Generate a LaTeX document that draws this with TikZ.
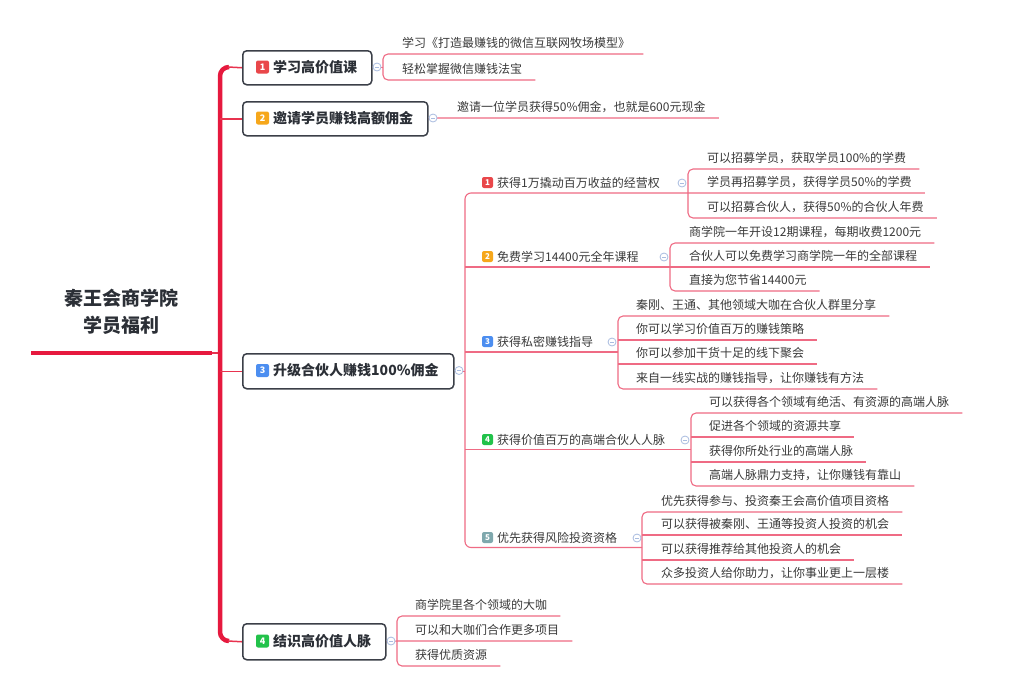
\documentclass[tikz,border=0pt]{standalone}
\usepackage{fontspec}
\newfontfamily\cjk{Noto Sans CJK SC}
\usetikzlibrary{calc,backgrounds}
\definecolor{trunkc}{HTML}{E6193E}
\definecolor{branchc}{HTML}{E8334F}
\definecolor{slinec}{HTML}{EF6B84}
\definecolor{boxc}{HTML}{3B3F48}
\definecolor{mtextc}{HTML}{2B2F36}
\definecolor{ltextc}{HTML}{3A3A3A}
\definecolor{collc}{HTML}{A9BCE0}
\definecolor{ired}{HTML}{E9474A}
\definecolor{iorange}{HTML}{F6A71B}
\definecolor{iblue}{HTML}{4C8EF0}
\definecolor{igreen}{HTML}{22C24A}
\definecolor{iteal}{HTML}{7FA8AD}
\begin{document}
\begin{tikzpicture}[x=1pt,y=-1pt,
  mainbox/.style={draw=boxc, line width=1.5pt, rounded corners=4pt, fill=white, anchor=north west, inner sep=0pt},
  mtext/.style={font=\cjk\bfseries\fontsize{14}{16}\selectfont, text=mtextc, anchor=west, inner sep=0pt},
  badge/.style={fill=#1, rounded corners=2pt, text=white, font=\cjk\bfseries\fontsize{9}{10}\selectfont, minimum width=13pt, minimum height=13pt, inner sep=0pt},
  sbadge/.style={badge=#1, minimum width=11pt, minimum height=11pt, font=\cjk\bfseries\fontsize{8}{9}\selectfont},
  slabel/.style={font=\cjk\fontsize{12}{14}\selectfont, text=ltextc, anchor=west, inner sep=0pt},
  leaf/.style={font=\cjk\fontsize{12}{14}\selectfont, text=ltextc, anchor=south west, inner xsep=0pt, inner ysep=3.4pt, text height=9pt, text depth=2.5pt},
  collapse/.style={circle, draw=collc, line width=0.8pt, fill=white, minimum size=8pt, inner sep=0pt, path picture={\draw[collc, line width=0.8pt] ([xshift=2pt]path picture bounding box.west) -- ([xshift=-2pt]path picture bounding box.east);}},
  trunk/.style={draw=trunkc, line width=4.5pt},
  branch/.style={draw=branchc, line width=1.5pt},
  sline/.style={draw=slinec, line width=1.1pt},
  bracket/.style={sline, rounded corners=5pt},
]
\begin{scope}[on background layer]
\fill[white] (0,0) rectangle (1024,678);
\end{scope}
\useasboundingbox (0,0) rectangle (1024,678);

% root
\node[font=\cjk\bfseries\fontsize{19}{27}\selectfont, text=mtextc, align=center, inner sep=0pt] (root) at (121,311.5) {秦王会商学院\\学员福利};
\coordinate (rl) at (31,353);
\coordinate (rr) at (212,353);
\coordinate (tj) at (220,353);
\coordinate (ttop) at (220,67);
\coordinate (tbot) at (220,641);

% main boxes
\node[mainbox, minimum width=129pt, minimum height=34pt] (b1) at (242,50) {};
\node[badge=ired] (i1) at (262.5,67) {1};
\node[mtext] (t1) at (273,67) {学习高价值课};

\node[mainbox, minimum width=185pt, minimum height=34pt] (b2) at (242,101) {};
\node[badge=iorange] (i2) at (262.5,118) {2};
\node[mtext] (t2) at (273,118) {邀请学员赚钱高额佣金};

\node[mainbox, minimum width=211pt, minimum height=35pt] (b3) at (242,353) {};
\node[badge=iblue] (i3) at (262.5,370.5) {3};
\node[mtext] (t3) at (273,370.5) {升级合伙人赚钱100\%佣金};

\node[mainbox, minimum width=143pt, minimum height=36pt] (b4) at (242,623) {};
\node[badge=igreen] (i4) at (262.5,641) {4};
\node[mtext] (t4) at (273,641) {结识高价值人脉};

% box 1 leaves
\node[leaf] (a1) at (383,54) {\hspace*{19pt}学习《打造最赚钱的微信互联网牧场模型》\hspace*{13pt}};
\node[leaf] (a2) at (383,80) {\hspace*{19pt}轻松掌握微信赚钱法宝\hspace*{13pt}};
\node[collapse] (c1) at (377,67) {};

% box 2 leaf
\node[leaf] (bb1) at (438,118) {\hspace*{19pt}邀请一位学员获得50\%佣金，也就是600元现金\hspace*{13pt}};
\node[collapse] (c2) at (433,118) {};

% box 3
\node[collapse] (c3) at (459,370.5) {};
\coordinate (stt) at (465,193);

% sub 1
\node[sbadge=ired] (si1) at (487.5,182.5) {1};
\node[slabel] (s1) at (497,182.5) {获得1万撬动百万收益的经营权};
\node[leaf] (k1a) at (688,169) {\hspace*{19pt}可以招募学员，获取学员100\%的学费\hspace*{13pt}};
\node[leaf] (k1b) at (688,193) {\hspace*{19pt}学员再招募学员，获得学员50\%的学费\hspace*{13pt}};
\node[leaf] (k1c) at (688,218) {\hspace*{19pt}可以招募合伙人，获得50\%的合伙人年费\hspace*{13pt}};
\node[collapse] (cs1) at (682,183) {};

% sub 2
\node[sbadge=iorange] (si2) at (487.5,256.5) {2};
\node[slabel] (s2) at (497,256.5) {免费学习14400元全年课程};
\node[leaf] (k2a) at (670,243) {\hspace*{19pt}商学院一年开设12期课程，每期收费1200元\hspace*{13pt}};
\node[leaf] (k2b) at (670,267) {\hspace*{19pt}合伙人可以免费学习商学院一年的全部课程\hspace*{13pt}};
\node[leaf] (k2c) at (670,291) {\hspace*{19pt}直接为您节省14400元\hspace*{13pt}};
\node[collapse] (cs2) at (664,257) {};

% sub 3
\node[sbadge=iblue] (si3) at (487.5,341.5) {3};
\node[slabel] (s3) at (497,341.5) {获得私密赚钱指导};
\node[leaf] (k3a) at (618,316) {\hspace*{18pt}秦刚、王通、其他领域大咖在合伙人群里分享\hspace*{13pt}};
\node[leaf] (k3b) at (618,340) {\hspace*{18pt}你可以学习价值百万的赚钱策略\hspace*{13pt}};
\node[leaf] (k3c) at (618,364) {\hspace*{18pt}你可以参加干货十足的线下聚会\hspace*{13pt}};
\node[leaf] (k3d) at (618,389) {\hspace*{18pt}来自一线实战的赚钱指导，让你赚钱有方法\hspace*{13pt}};
\node[collapse] (cs3) at (612,342) {};

% sub 4
\node[sbadge=igreen] (si4) at (487.5,439.5) {4};
\node[slabel] (s4) at (497,439.5) {获得价值百万的高端合伙人人脉};
\node[leaf] (k4a) at (691,413) {\hspace*{18pt}可以获得各个领域有绝活、有资源的高端人脉\hspace*{13pt}};
\node[leaf] (k4b) at (691,437) {\hspace*{18pt}促进各个领域的资源共享\hspace*{13pt}};
\node[leaf] (k4c) at (691,462) {\hspace*{18pt}获得你所处行业的高端人脉\hspace*{13pt}};
\node[leaf] (k4d) at (691,486) {\hspace*{18pt}高端人脉鼎力支持，让你赚钱有靠山\hspace*{13pt}};
\node[collapse] (cs4) at (685,440) {};

% sub 5
\node[sbadge=iteal] (si5) at (487.5,537.5) {5};
\node[slabel] (s5) at (497,537.5) {优先获得风险投资资格};
\node[leaf] (k5a) at (642,512) {\hspace*{19pt}优先获得参与、投资秦王会高价值项目资格\hspace*{13pt}};
\node[leaf] (k5b) at (642,535) {\hspace*{19pt}可以获得被秦刚、王通等投资人投资的机会\hspace*{13pt}};
\node[leaf] (k5c) at (642,560) {\hspace*{19pt}可以获得推荐给其他投资人的机会\hspace*{13pt}};
\node[leaf] (k5d) at (642,584) {\hspace*{19pt}众多投资人给你助力，让你事业更上一层楼\hspace*{13pt}};
\node[collapse] (cs5) at (637,538) {};

% box 4 leaves
\node[leaf] (d1) at (397,616) {\hspace*{18pt}商学院里各个领域的大咖\hspace*{13pt}};
\node[leaf] (d2) at (397,641) {\hspace*{18pt}可以和大咖们合作更多项目\hspace*{13pt}};
\node[leaf] (d3) at (397,666) {\hspace*{18pt}获得优质资源\hspace*{13pt}};
\node[collapse] (c4) at (391,641) {};

\coordinate (m3) at ($(k3b.south west)!0.5!(k3c.south west)$);
\coordinate (m4) at ($(k4b.south west)!0.5!(k4c.south west)$);
\coordinate (m5) at ($(k5b.south west)!0.5!(k5c.south west)$);
\coordinate (stb) at (stt |- m5);

\begin{scope}[on background layer]
% root line and trunk
\draw[trunk] (rl) -- (rr);
\draw[branch] (rr) -- (tj);
\draw[trunk, rounded corners=9pt] ([xshift=9pt]ttop) -- (ttop) -- (tbot) -- ([xshift=9pt]tbot);
\draw[branch] ([xshift=8pt]ttop) -- (b1.west);
\draw[branch] (ttop |- b2.west) -- (b2.west);
\draw[branch] (ttop |- b3.west) -- (b3.west);
\draw[branch] ([xshift=8pt]tbot) -- (b4.west);
% box 1
\draw[sline] (b1.east) -- (b1.east -| a1.south west);
\draw[bracket] (a1.south east) -- (a1.south west) -- (a2.south west) -- (a2.south east);
% box 2
\draw[sline] (b2.east) -- (bb1.south west) -- (bb1.south east);
% box 3 sub-trunk
\draw[sline] (b3.east) -- (b3.east -| stt);
\draw[sline, rounded corners=6pt] (k1b.south east) -- (k1b.south west) -- (stt) -- (stb) -- (m5);
% sub 1
\draw[bracket] (k1a.south east) -- (k1a.south west) -- (k1c.south west) -- (k1c.south east);
% sub 2
\draw[sline] (stt |- k2b.south west) -- (k2b.south west) -- (k2b.south east);
\draw[bracket] (k2a.south east) -- (k2a.south west) -- (k2c.south west) -- (k2c.south east);
% sub 3
\draw[sline] (stt |- m3) -- (m3);
\draw[bracket] (k3a.south east) -- (k3a.south west) -- (k3d.south west) -- (k3d.south east);
\draw[sline] (k3b.south west) -- (k3b.south east);
\draw[sline] (k3c.south west) -- (k3c.south east);
% sub 4
\draw[sline] (stt |- m4) -- (m4);
\draw[bracket] (k4a.south east) -- (k4a.south west) -- (k4d.south west) -- (k4d.south east);
\draw[sline] (k4b.south west) -- (k4b.south east);
\draw[sline] (k4c.south west) -- (k4c.south east);
% sub 5
\draw[bracket] (k5a.south east) -- (k5a.south west) -- (k5d.south west) -- (k5d.south east);
\draw[sline] (k5b.south west) -- (k5b.south east);
\draw[sline] (k5c.south west) -- (k5c.south east);
% box 4
\draw[sline] (b4.east) -- (d2.south west) -- (d2.south east);
\draw[bracket] (d1.south east) -- (d1.south west) -- (d3.south west) -- (d3.south east);
\end{scope}
\end{tikzpicture}
\end{document}
